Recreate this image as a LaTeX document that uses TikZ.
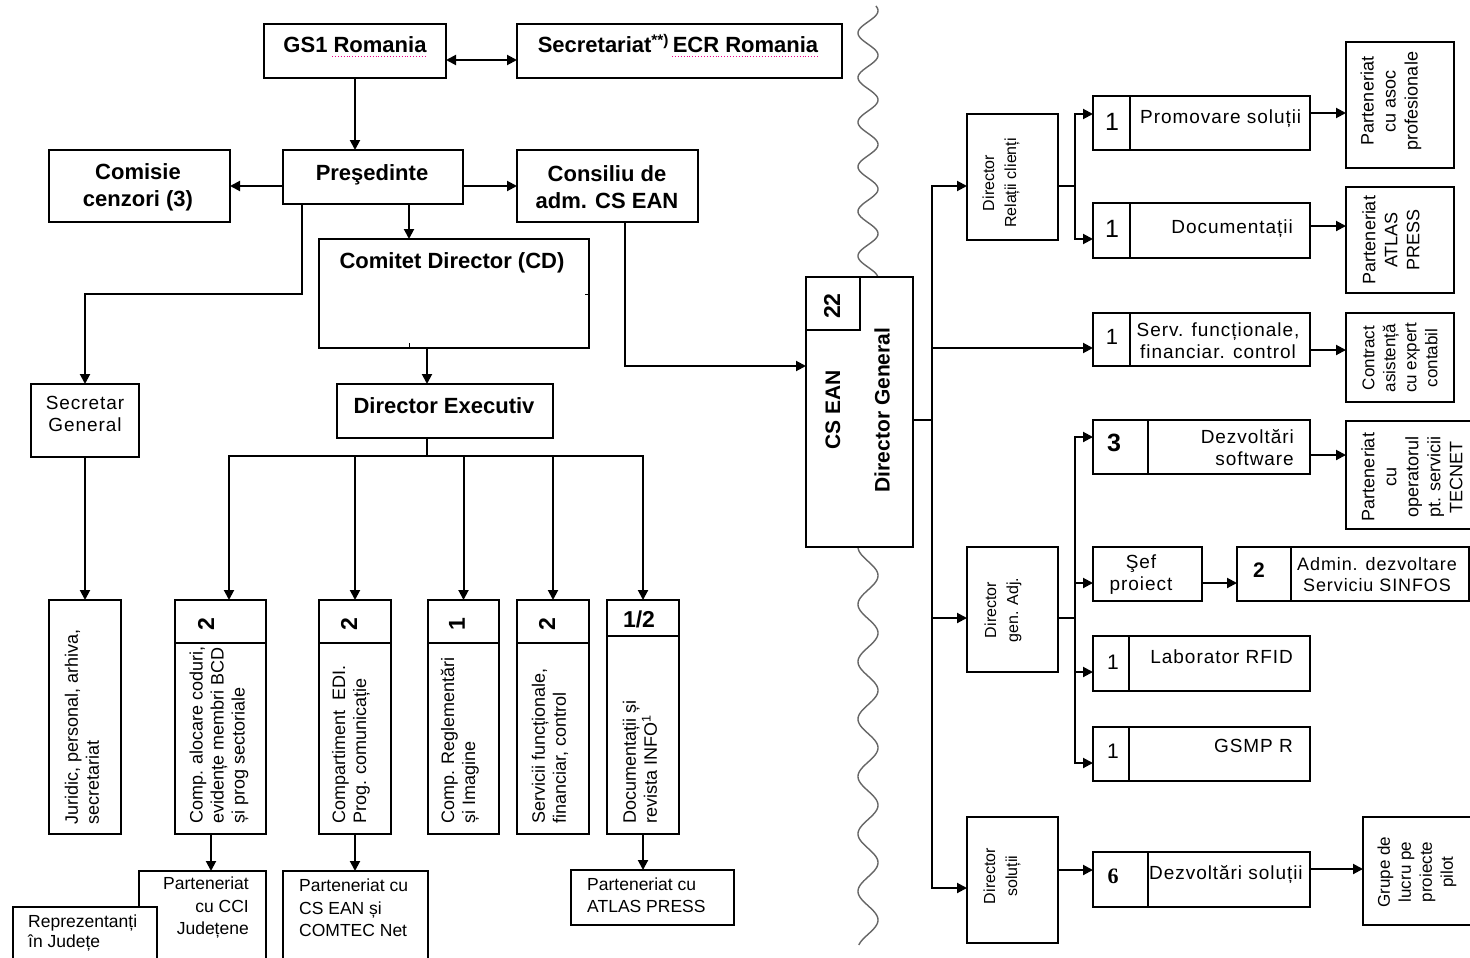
\documentclass[tikz,border=0pt]{standalone}
\usepackage{fontspec}
\setmainfont{Liberation Sans}
\newfontfamily\msf[LetterSpace=5]{Liberation Sans}
\newfontfamily\serf{Liberation Serif}
\usetikzlibrary{arrows.meta}
\newcommand\fsz[2]{\fontsize{#1}{#2}\selectfont}
\newcommand\mkbox[6][]{\node[box,#1,anchor=north west,minimum width={(#4-#2)*1pt},minimum height={(#5-#3)*1pt}] (#6) at (#2,#3) {};}
\newcommand\hdiv[2]{\draw[ln] ([yshift=-#2pt]#1.north west) -- ([yshift=-#2pt]#1.north east);}
\newcommand\vdiv[2]{\draw[ln] ([xshift=#2pt]#1.north west) -- ([xshift=#2pt]#1.south west);}
\begin{document}
\begin{tikzpicture}[x=1pt,y=-1pt,
 box/.style={draw,line width=2pt,fill=white,inner sep=0pt,outer sep=0pt},
 arr/.style={draw,line width=2pt,-{Triangle[length=10pt,width=10pt]}},
 dbl/.style={draw,line width=2pt,{Triangle[length=10pt,width=10pt]}-{Triangle[length=10pt,width=10pt]}},
 ln/.style={draw,line width=2pt},
 wave/.style={draw=black!60,line width=1.4pt},
 tb/.style={inner sep=0pt,font=\fsz{22}{27}\bfseries,align=center},
 tr/.style={inner sep=0pt,font=\msf\fsz{19}{22},align=center},
 tv/.style={inner sep=0pt,rotate=90,font=\fsz{18}{21},align=left,anchor=west},
 num/.style={inner sep=0pt,font=\fsz{23}{23}\bfseries},
 tp/.style={inner sep=0pt,rotate=90,font=\fsz{18}{22},align=center},
 td/.style={inner sep=0pt,rotate=90,font=\fsz{16}{22},align=center},
 tbl/.style={inner sep=0pt,font=\fsz{17.5}{22.5}},
 sq/.style={draw=magenta,line width=0.9pt,dotted}]
\fill[white] (0,0) rectangle (1470,958);
\useasboundingbox (0,0) rectangle (1470,958);
\clip (0,0) rectangle (1470,958);
% wavy separator
\draw[wave] plot[domain=6:277,samples=240,smooth] ({868-10*cos((\x-33)/44.6*360)},\x);
\draw[wave] plot[domain=547:945,samples=300,smooth] ({868+10*cos((\x-633)/57.4*360)},\x);
% left boxes
\mkbox{264}{24}{446}{78}{gs1}
\mkbox{517}{24}{842}{78}{ecr}
\mkbox{283}{150}{463}{204}{pres}
\mkbox{49}{150}{230}{222}{cenz}
\mkbox{517}{150}{698}{222}{cons}
\mkbox{319}{239}{589}{348}{cd}
\mkbox{31}{384}{139}{457}{secg}
\mkbox{337}{384}{553}{438}{dex}
\mkbox{49}{600}{121}{834}{jur}
\mkbox{175}{600}{266}{834}{ca}
\mkbox{319}{600}{391}{834}{edi}
\mkbox{428}{600}{499}{834}{reg}
\mkbox{517}{600}{589}{834}{serf}
\mkbox{607}{600}{679}{834}{doc}
\hdiv{ca}{43}\hdiv{edi}{43}\hdiv{reg}{43}\hdiv{serf}{43}\hdiv{doc}{36}
\mkbox{139}{871}{266}{980}{cci}
\mkbox{13}{907}{157}{980}{rep}
\mkbox{283}{871}{428}{980}{pcs}
\mkbox{571}{870}{734}{925}{patl}
\draw[line width=1pt] (585,294) -- (589,294);
\draw[line width=1pt] (409,343) -- (409,348);
% right boxes
\mkbox{806}{277}{913}{547}{csean}
\draw[ln] ([xshift=54pt]csean.north west) |- ([yshift=-53pt]csean.north west);
\mkbox{967}{114}{1058}{240}{drc}
\mkbox{1093}{96}{1310}{150}{promo}
\mkbox{1093}{203}{1310}{258}{docu}
\mkbox{1346}{42}{1454}{168}{asoc}
\mkbox{1346}{187}{1454}{293}{patl2}
\mkbox{1093}{313}{1310}{366}{servr}
\mkbox{1346}{313}{1454}{402}{contr}
\mkbox{1093}{420}{1310}{474}{dezsw}
\mkbox{1346}{421}{1480}{529}{tecnet}
\mkbox{967}{547}{1058}{672}{dga}
\mkbox{1093}{547}{1202}{601}{sef}
\mkbox{1237}{547}{1469}{601}{admin}
\mkbox{1093}{636}{1310}{691}{lab}
\mkbox{1093}{727}{1310}{781}{gsmp}
\mkbox{967}{817}{1058}{943}{ds}
\mkbox{1093}{852}{1310}{907}{dezsol}
\mkbox{1363}{817}{1480}{925}{grupe}
\vdiv{promo}{37}\vdiv{docu}{37}\vdiv{servr}{37}\vdiv{dezsw}{55}
\vdiv{admin}{54}\vdiv{lab}{36}\vdiv{gsmp}{36}\vdiv{dezsol}{55}
% connectors left
\draw[dbl] ([yshift=-9pt]gs1.east) -- ([yshift=-9pt]ecr.west);
\draw[arr] (gs1.south) -- (gs1.south |- pres.north);
\draw[arr] (pres.west |- cenz.east) -- (cenz.east);
\draw[arr] (pres.east |- cons.west) -- (cons.west);
\draw[arr] ([xshift=36pt]pres.south) -- ([xshift=36pt]pres.south |- cd.north);
\draw[arr] ([xshift=-71pt]pres.south) -- ++(0,90) -| (secg.north);
\draw[arr] (secg.south) -- (jur.north);
\draw[arr] ([xshift=-27pt]cd.south) -- ([xshift=-27pt]cd.south |- dex.north);
\draw[ln] ([xshift=-18pt]dex.south) -- ++(0,18) coordinate (bus);
\draw[arr] (bus) -| ([xshift=8.5pt]ca.north);
\draw[arr] (bus) -| (edi.north);
\draw[arr] (bus) -| (reg.north);
\draw[arr] (bus) -| (serf.north);
\draw[arr] (bus) -| (doc.north);
\draw[arr] ([xshift=-9.5pt]ca.south) -- ([xshift=-9.5pt]ca.south |- cci.north);
\draw[arr] (edi.south) -- (edi.south |- pcs.north);
\draw[arr] (doc.south) -- (doc.south |- patl.north);
\draw[arr] ([xshift=17.5pt]cons.south) |- ([yshift=46pt]csean.west);
% connectors right
\draw[ln] ([yshift=-8pt]csean.east) -- ++(19,0) coordinate (trk);
\draw[arr] (trk) |- ([yshift=-9pt]drc.west);
\draw[arr] (trk) |- ([yshift=-8.5pt]servr.west);
\draw[arr] (trk) |- ([yshift=-8.5pt]dga.west);
\draw[arr] (trk) |- ([yshift=-8pt]ds.west);
\draw[ln] ([yshift=-9pt]drc.east) -- ++(17,0) coordinate (j1);
\draw[arr] (j1) |- ([yshift=9pt]promo.west);
\draw[arr] (j1) |- ([yshift=-8.5pt]docu.west);
\draw[ln] ([yshift=-8.5pt]dga.east) -- ++(17,0) coordinate (j2);
\draw[arr] (j2) |- ([yshift=10pt]dezsw.west);
\draw[arr] (j2) |- ([yshift=-9pt]sef.west);
\draw[arr] (j2) |- ([yshift=-8.5pt]lab.west);
\draw[arr] (j2) |- ([yshift=-9pt]gsmp.west);
\draw[arr] ([yshift=10pt]ds.east) -- ([yshift=9.5pt]dezsol.west);
\path ([yshift=10pt]promo.east) coordinate (t1);
\draw[arr] (t1) -- (t1 -| asoc.west);
\path ([yshift=4.5pt]docu.east) coordinate (t2);
\draw[arr] (t2) -- (t2 -| patl2.west);
\path ([yshift=-10.5pt]servr.east) coordinate (t3);
\draw[arr] (t3) -- (t3 -| contr.west);
\path ([yshift=-8pt]dezsw.east) coordinate (t4);
\draw[arr] (t4) -- (t4 -| tecnet.west);
\path ([yshift=-9pt]sef.east) coordinate (t5);
\draw[arr] (t5) -- (t5 -| admin.west);
\path ([yshift=10.5pt]dezsol.east) coordinate (t6);
\draw[arr] (t6) -- (t6 -| grupe.west);
% spell-check marks
\draw[sq] (332,56) -- (425,56);
\draw[sq] (672,56) -- (818,56);
% texts left
\node[tb,anchor=base] at (355,53) {GS1 Romania};
\node[tb,anchor=base] at (678,53) {Secretariat\textsuperscript{**)}\,ECR Romania};
\node[tb,anchor=base] at (372,180) {Preşedinte};
\node[tb] at (138,187) {Comisie\\cenzori (3)};
\node[tb] at (607,187) {Consiliu de\\adm. CS EAN};
\node[tb,anchor=base] at (452,268) {Comitet Director (CD)};
\node[tb,anchor=base] at (444,413) {Director Executiv};
\node[tr] at (85,414) {Secretar\\General};
\node[tv] at (82,825) {Juridic, personal, arhiva,\\secretariat};
\node[tv] at (219,824) {Comp. alocare coduri,\\evidențe membri BCD\\și prog sectoriale};
\node[tv] at (351,824) {Compartiment\ \ EDI.\\Prog. comunicație};
\node[tv] at (460,824) {Comp. Reglementări\\și Imagine};
\node[tv] at (550,824) {Servicii funcționale,\\financiar, control};
\node[tv] at (640,824) {Documentații și\\revista INFO\textsuperscript{1}};
\node[num,rotate=90] at (206,624) {2};
\node[num,rotate=90] at (349,624) {2};
\node[num,rotate=90] at (457,624) {1};
\node[num,rotate=90] at (547,624) {2};
\node[num] at (639,619) {1/2};
\node[tbl,align=right,anchor=east] at (249,908) {Parteneriat\\cu CCI\\Județene};
\node[tbl,align=left,anchor=west,font=\fsz{17.5}{19.5}] at (28,933) {Reprezentanți\\în Județe};
\node[tbl,align=left,anchor=west] at (299,908) {Parteneriat cu\\CS EAN și\\COMTEC Net};
\node[tbl,align=left,anchor=west] at (587,895) {Parteneriat cu\\ATLAS PRESS};
% texts right
\node[num,rotate=90] at (832,306) {22};
\node[tb,rotate=90,font=\fsz{21}{21}\bfseries] at (833,410) {CS EAN};
\node[tb,rotate=90,font=\fsz{21}{21}\bfseries] at (882,410) {Director General};
\node[td] at (1001,183) {Director\\Relații clienți};
\node[td] at (1003,610) {Director\\gen. Adj.};
\node[td] at (1002,876) {Director\\soluții};
\node[tr,anchor=base west] at (1140,123) {Promovare soluții};
\node[tr,anchor=base east] at (1293,233) {Documentații};
\node[tr] at (1218,341) {Serv. funcționale,\\financiar. control};
\node[tr,align=right,anchor=east] at (1294,448) {Dezvoltări\\software};
\node[tr] at (1141,575) {Şef\\proiect};
\node[tr,font=\msf\fsz{18}{21}] at (1377,575) {Admin. dezvoltare\\Serviciu SINFOS};
\node[tr,anchor=base east] at (1293,663) {Laborator RFID};
\node[tr,anchor=base east] at (1293,752) {GSMP R};
\node[tr,anchor=base west] at (1149,879) {Dezvoltări soluții};
\node[inner sep=0pt,font=\fsz{25}{25}] at (1112,122) {1};
\node[inner sep=0pt,font=\fsz{25}{25}] at (1112,229) {1};
\node[inner sep=0pt,font=\fsz{22}{22}] at (1112,337) {1};
\node[inner sep=0pt,font=\fsz{25}{25}\bfseries] at (1114,443) {3};
\node[inner sep=0pt,font=\fsz{21}{21}\bfseries] at (1259,570) {2};
\node[inner sep=0pt,font=\fsz{21}{21}] at (1113,662) {1};
\node[inner sep=0pt,font=\fsz{21}{21}] at (1113,751) {1};
\node[inner sep=0pt,font=\serf\fsz{22}{22}\bfseries] at (1113,876) {6};
\node[tp] at (1391,101) {Parteneriat\\cu asoc\\profesionale};
\node[tp] at (1391,240) {Parteneriat\\ATLAS\\PRESS};
\node[tp,font=\fsz{17}{21}] at (1400,358) {Contract\\asistență\\cu expert\\contabil};
\node[tp] at (1412,477) {Parteneriat\\cu\\operatorul\\pt. servicii\\TECNET};
\node[tp,font=\fsz{17}{21}] at (1417,872) {Grupe de\\lucru pe\\proiecte\\pilot};
\end{tikzpicture}
\end{document}
